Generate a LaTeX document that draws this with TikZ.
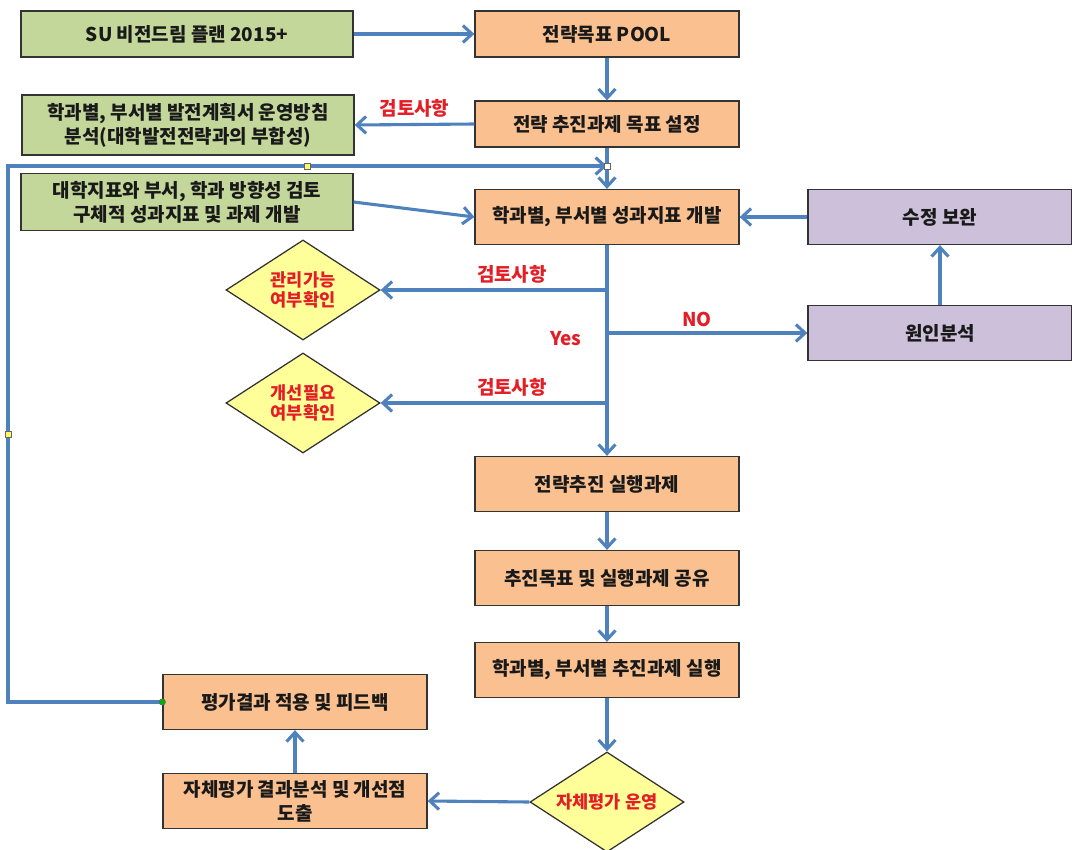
\documentclass[tikz,border=0pt]{standalone}
\usepackage{fontspec}
\usepackage{xcolor}
\usetikzlibrary{shapes.geometric,arrows.meta}
\newfontfamily\kr{Noto Sans CJK KR}
\definecolor{planfill}{RGB}{196,215,155}
\definecolor{taskfill}{RGB}{250,192,143}
\definecolor{fixfill}{RGB}{204,192,218}
\definecolor{checkfill}{RGB}{255,255,153}
\definecolor{flowblue}{RGB}{79,129,189}
\definecolor{notered}{RGB}{228,30,38}
\tikzset{
  box/.style = {rectangle, draw=black!80, line width=0.9pt,
                minimum width=6.6cm, minimum height=#1, align=center,
                inner sep=1pt, text=black!90,
                font=\kr\bfseries\fontsize{13.5}{17}\selectfont},
  box/.default = 1.375cm,
  planbox/.style = {box=#1, fill=planfill, minimum width=8.3cm},
  planbox/.default = 1.15cm,
  taskbox/.style = {box=#1, fill=taskfill},
  taskbox/.default = 1.375cm,
  fixbox/.style = {box, fill=fixfill},
  check/.style = {diamond, draw=black!80, line width=0.9pt, fill=checkfill,
                  minimum width=3.85cm, minimum height=2.5cm, aspect=1.5,
                  inner sep=0pt, align=center, text=notered,
                  font=\kr\bfseries\fontsize{12.5}{14}\selectfont},
  flow/.style = {draw=flowblue, line width=2.2pt,
                 -{Straight Barb[length=6.5pt, width=12pt]}},
  note/.style = {text=notered, font=\kr\bfseries\fontsize{13.5}{15}\selectfont},
  handle/.style = {rectangle, draw=black!60, fill=#1, line width=0.4pt,
                   minimum size=4pt, inner sep=0pt},
  handle/.default = yellow!60
}

\begin{document}
\begin{tikzpicture}[x=0.025cm, y=-0.025cm]
	\useasboundingbox (0,0) rectangle (1072,849);
	\def \trunk{607}  % main column
	\def \back{8}     % feedback line
	
	% Plans (green)
	\node[planbox] (vision) at (187,34) {SU 비전드림 플랜 2015+};
	\node[planbox=1.5cm] (review) at (188,125) {학과별, 부서별 발전계획서 운영방침\\분석(대학발전전략과의 부합성)};
	\node[planbox=1.43cm] (index) at (187,202) {대학지표와 부서, 학과 방향성 검토\\구체적 성과지표 및 과제 개발};
	
	% Tasks (orange)
	\node[taskbox=1.15cm] (pool) at (\trunk,34) {전략목표 POOL};
	\node[taskbox=1.15cm] (goal) at (\trunk,124) {전략 추진과제 목표 설정};
	\node[taskbox] (kpi) at (\trunk,217) {학과별, 부서별 성과지표 개발};
	\node[taskbox] (exec) at (\trunk,484) {전략추진 실행과제};
	\node[taskbox] (share) at (\trunk,578) {추진목표 및 실행과제 공유};
	\node[taskbox] (run) at (\trunk,670) {학과별, 부서별 추진과제 실행};
	\node[taskbox] (apply) at (295,702) {평가결과 적용 및 피드백};
	\node[taskbox] (analyse) at (295,801) {자체평가 결과분석 및 개선점\\도출};
	
	% Fixes (purple)
	\node[fixbox] (fix) at (940,217) {수정 보완};
	\node[fixbox] (cause) at (940,333) {원인분석};
	
	% Checks
	\node[check] (manage) at (303,290) {관리가능\\여부확인};
	\node[check] (improve) at (303,403) {개선필요\\여부확인};
	\node[check] (self) at (\trunk,802) {자체평가 운영};
	
	% Branch points
	\coordinate (b1) at (kpi.south |- manage.east);
	\coordinate (b2) at (kpi.south |- cause.west);
	\coordinate (b3) at (kpi.south |- improve.east);
	\coordinate (join) at (\trunk,166);
	\coordinate (corner) at (\back,166);
	
	% Flow
	\draw[flow] (vision.east) -- (pool.west);
	\draw[flow] (pool.south) -- (goal.north);
	\draw[flow] (goal.west) -- (review.east) node[note, midway, above=1pt] {검토사항};
	\draw[flow] (goal.south) -- (kpi.north);
	\draw[flow] (index.east) -- (kpi.west);
	\draw[flow] (fix.west) -- (kpi.east);
	\draw[flow] (cause.north) -- (fix.south);
	\draw[flow] (kpi.south) -- (exec.north);
	\draw[flow] (b1) -- (manage.east) node[note, pos=0.42, above=0pt] {검토사항};
	\draw[flow] (b3) -- (improve.east) node[note, pos=0.42, above=0pt] {검토사항};
	\draw[flow] (b2) -- (cause.west) node[note, pos=0.45, above=0pt] {NO};
	\node[note] (yes) at (566,339) {Yes};
	\draw[flow] (exec.south) -- (share.north);
	\draw[flow] (share.south) -- (run.north);
	\draw[flow] (run.south) -- (self.north);
	\draw[flow] (self.west) -- (analyse.east);
	\draw[flow] (analyse.north) -- (apply.south);
	
	% Feedback
	\draw[flow] (apply.west) -| (corner) -- (join);
	
	% Handles
	\node[handle] (h1) at (307,166) {};
	\node[handle] (h2) at (\back,434) {};
	\node[handle=white] (h3) at (join) {};
	\node[circle, draw=black!60, fill=green!70!black, line width=0.4pt, minimum size=4.5pt, inner sep=0pt] (h4) at (apply.west) {};
	
\end{tikzpicture}
\end{document}
